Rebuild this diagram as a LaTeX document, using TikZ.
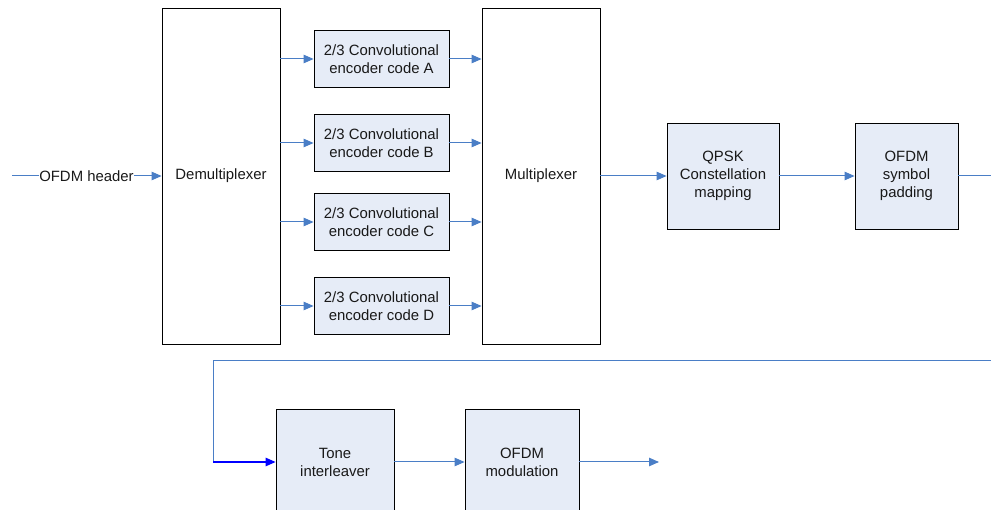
\documentclass[tikz,border=0pt]{standalone}
\usepackage{fontspec}
\setmainfont{Liberation Sans}
\usetikzlibrary{arrows.meta}
\definecolor{boxfill}{RGB}{230,236,247}
\definecolor{flowblue}{RGB}{74,126,198}
\definecolor{loopblue}{RGB}{0,0,255}
\begin{document}
\begin{tikzpicture}[x=1pt,y=-1pt,
  txt/.style={font=\fontsize{14.9}{18}\selectfont, text=black!90},
  blk/.style={txt, draw=black, line width=0.85pt, fill=boxfill, align=center, inner sep=0pt},
  tall/.style={txt, draw=black, line width=0.85pt, fill=white, align=center, inner sep=0pt,
               minimum width=118pt, minimum height=336pt},
  enc/.style={blk, minimum width=135pt, minimum height=57pt},
  wire/.style={draw=flowblue, line width=1pt},
  flow/.style={wire, -{Triangle[length=10pt,width=8.5pt]}}]
\useasboundingbox (0,0) rectangle (991,510);
\clip (0,0) rectangle (991,510);

% main blocks
\node[tall] (demux) at (221,176) {Demultiplexer};
\node[tall] (mux) at (541,176) {Multiplexer};
\node[enc] (encA) at (381.5,59)  {2/3 Convolutional\\encoder code A};
\node[enc] (encB) at (381.5,143) {2/3 Convolutional\\encoder code B};
\node[enc] (encC) at (381.5,222) {2/3 Convolutional\\encoder code C};
\node[enc] (encD) at (381.5,306) {2/3 Convolutional\\encoder code D};
\node[blk, minimum width=112pt, minimum height=106pt] (qpsk) at (723,176) {QPSK\\Constellation\\mapping};
\node[blk, minimum width=103pt, minimum height=106pt] (pad) at (906.5,176) {OFDM\\symbol\\padding};
\node[blk, minimum width=118pt, minimum height=106pt] (tone) at (335,462) {Tone\\interleaver};
\node[blk, minimum width=114pt, minimum height=106pt] (ofdmmod) at (522,462) {OFDM\\modulation};

% input label
\node[txt, inner sep=0.5pt] (hdr) at (86.5,176) {OFDM header};

% free ends of the connectors
\coordinate (in) at (12,176);
\coordinate (padout) at (991,176);
\coordinate (loopR) at (991,361);
\coordinate (loopL) at (213,361);
\coordinate (loopB) at (213,462);
\coordinate (modout) at (659,462);

% input
\draw[wire] (in) -- (hdr.west);
\draw[flow] (hdr.east) -- (demux.west |- hdr);

% encoder branches
\foreach \e in {encA,encB,encC,encD}{
  \draw[flow] (demux.east |- \e) -- (\e.west);
  \draw[flow] (\e.east) -- (mux.west |- \e);
}

% upper chain
\draw[flow] (mux.east) -- (qpsk.west);
\draw[flow] (qpsk.east) -- (pad.west);
\draw[wire] (pad.east) -- (padout);

% wrap-around to the lower chain
\draw[wire] (loopR) -- (loopL) -- (loopB);
\draw[flow, draw=loopblue, line width=1.3pt] (loopB) -- (tone.west);
\draw[flow] (tone.east) -- (ofdmmod.west);
\draw[flow] (ofdmmod.east) -- (modout);
\end{tikzpicture}
\end{document}
